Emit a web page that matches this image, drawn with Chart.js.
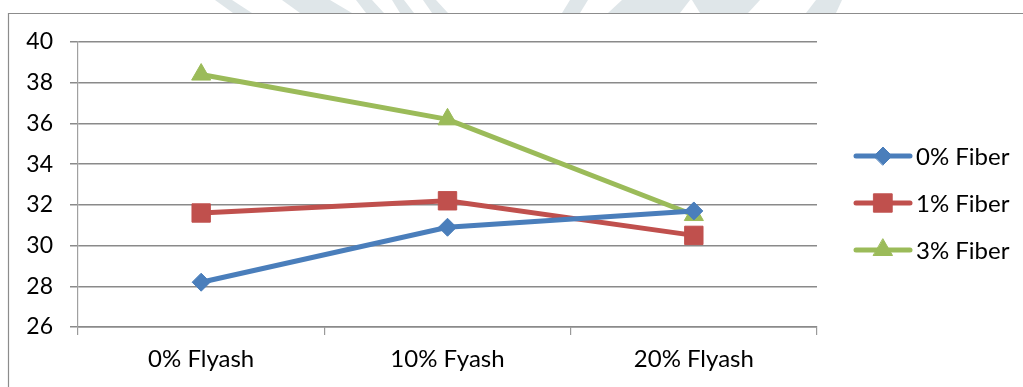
<!DOCTYPE html>
<html>
<head>
<meta charset="utf-8">
<script src="https://cdn.jsdelivr.net/npm/chart.js@4/dist/chart.umd.min.js"></script>
<style>
  html, body { margin: 0; padding: 0; background: #ffffff; }
  #wrap { width: 1023px; height: 387px; position: relative; }
</style>
</head>
<body>
<div id="wrap"><canvas id="c" width="1023" height="387"></canvas></div>
<script>
// Categories and series
const categories = ['0% Flyash', '10% Fyash', '20% Flyash'];
const fiber0 = [28.2, 30.9, 31.7];
const fiber1 = [31.6, 32.2, 30.5];
const fiber3 = [38.4, 36.2, 31.5];
const seriesNames = ['0% Fiber', '1% Fiber', '3% Fiber'];
const yTicks = [26, 28, 30, 32, 34, 36, 38, 40];

const FONT = 'Lato, "Open Sans", "DejaVu Sans", sans-serif';

// Faint background print along the top edge, above the chart frame
const backdrop = {
  id: 'backdrop',
  beforeDraw(chart) {
    const ctx = chart.ctx;
    ctx.save();
    ctx.fillStyle = '#ffffff';
    ctx.fillRect(0, 0, chart.width, chart.height);
    ctx.beginPath();
    ctx.rect(0, 0, chart.width, 13);
    ctx.clip();
    ctx.fillStyle = '#dfe6e9';
    const quads = [
      [215, 0, 232, 0, 252, 13, 233, 13],
      [282, 0, 330, 0, 352, 13, 300, 13],
      [356, 0, 372, 0, 384, 13, 366, 13],
      [392, 0, 404, 0, 414, 13, 400, 13],
      [423, 0, 436, 0, 448, 13, 432, 13],
      [570, 0, 588, 0, 580, 13, 562, 13],
      [622, 0, 690, 0, 680, 13, 608, 13],
      [692, 0, 760, 0, 748, 13, 700, 13],
      [816, 0, 842, 0, 836, 13, 806, 13]
    ];
    quads.forEach(q => {
      ctx.beginPath();
      ctx.moveTo(q[0], q[1]);
      ctx.lineTo(q[2], q[3]);
      ctx.lineTo(q[4], q[5]);
      ctx.lineTo(q[6], q[7]);
      ctx.closePath();
      ctx.fill();
    });
    ctx.restore();
    // chart frame (left and top edges)
    ctx.save();
    ctx.strokeStyle = '#8c8c8c';
    ctx.lineWidth = 1.2;
    ctx.beginPath();
    ctx.moveTo(8.5, chart.height);
    ctx.lineTo(8.5, 13.5);
    ctx.lineTo(chart.width, 13.5);
    ctx.stroke();
    ctx.restore();
  }
};

// Legend at the right: line sample with marker, then label
const sideLegend = {
  id: 'sideLegend',
  afterDraw(chart) {
    const ctx = chart.ctx;
    const x0 = 856, x1 = 910, tx = 916;
    chart.data.datasets.forEach((ds, i) => {
      const y = 156 + i * 47;
      ctx.save();
      ctx.strokeStyle = ds.borderColor;
      ctx.lineWidth = ds.borderWidth;
      ctx.lineCap = 'round';
      ctx.beginPath();
      ctx.moveTo(x0, y);
      ctx.lineTo(x1, y);
      ctx.stroke();
      ctx.fillStyle = ds.pointBackgroundColor;
      ctx.strokeStyle = ds.pointBorderColor;
      ctx.lineWidth = ds.pointBorderWidth;
      Chart.helpers.drawPoint(ctx, {
        pointStyle: ds.pointStyle,
        radius: ds.pointRadius,
        borderWidth: ds.pointBorderWidth,
        rotation: 0
      }, (x0 + x1) / 2, y);
      ctx.fillStyle = '#000000';
      ctx.font = '24px ' + FONT;
      ctx.textBaseline = 'middle';
      ctx.textAlign = 'left';
      ctx.fillText(ds.label, tx, y + 1);
      ctx.restore();
    });
  }
};

function series(label, data, color, style, radius) {
  return {
    label: label,
    data: data,
    borderColor: color,
    backgroundColor: color,
    borderWidth: 5,
    tension: 0,
    pointStyle: style,
    pointRadius: radius,
    pointHoverRadius: radius,
    pointBackgroundColor: color,
    pointBorderColor: color,
    pointBorderWidth: 1
  };
}

new Chart(document.getElementById('c'), {
  type: 'line',
  data: {
    labels: categories,
    datasets: [
      series(seriesNames[0], fiber0, '#4a7ebb', 'rectRot', 9),
      series(seriesNames[1], fiber1, '#c0504d', 'rect', 13),
      series(seriesNames[2], fiber3, '#9bbb59', 'triangle', 11)
    ]
  },
  options: {
    responsive: false,
    animation: false,
    events: [],
    layout: { padding: { left: 0, top: 42, right: 206, bottom: 0 } },
    plugins: {
      legend: { display: false },
      tooltip: { enabled: false }
    },
    scales: {
      x: {
        type: 'category',
        offset: true,
        grid: {
          offset: true,
          drawOnChartArea: false,
          drawTicks: true,
          tickLength: 8,
          color: '#9a9a9a',
          lineWidth: 1.2
        },
        border: { color: '#8a8a8a', width: 1.5 },
        ticks: {
          color: '#000000',
          font: { family: FONT, size: 24 },
          padding: 10,
          maxRotation: 0
        },
        afterFit(scale) { scale.height = 60; }
      },
      y: {
        min: yTicks[0],
        max: yTicks[yTicks.length - 1],
        afterBuildTicks(scale) {
          scale.ticks = yTicks.map(v => ({ value: v }));
        },
        grid: {
          color: '#8a8a8a',
          lineWidth: 1.5,
          tickLength: 8,
          drawTicks: true
        },
        border: { color: '#a0a0a0', width: 1.2 },
        ticks: {
          color: '#000000',
          font: { family: FONT, size: 23 },
          padding: 17
        },
        afterFit(scale) { scale.width = 78; }
      }
    }
  },
  plugins: [backdrop, sideLegend]
});
</script>
</body>
</html>
